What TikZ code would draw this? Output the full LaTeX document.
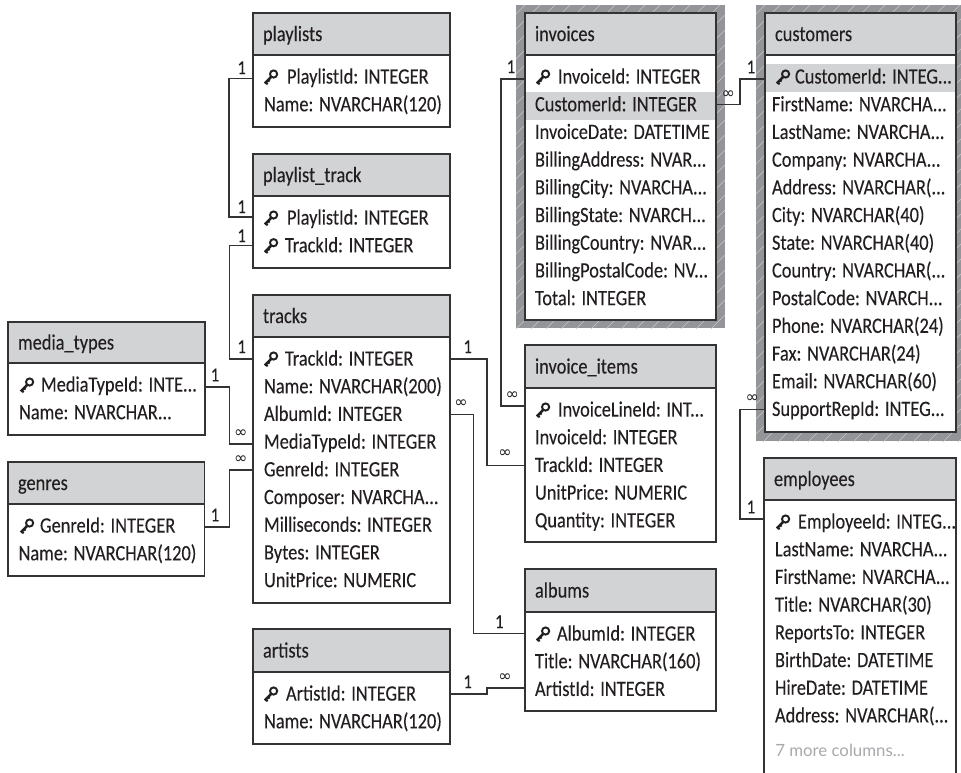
\documentclass[tikz,border=0pt]{standalone}
\usepackage{fontspec}
\setmainfont[FakeStretch=0.84,FakeBold=0.15]{Carlito}
\newfontfamily\morefont{Lato}
\newfontfamily\inffont{DejaVu Sans}
\definecolor{linecol}{HTML}{333335}
\definecolor{headcol}{HTML}{D1D3D4}
\definecolor{shadecol}{HTML}{939598}
\definecolor{hatchcol}{HTML}{C6C7C8}
\definecolor{txtcol}{HTML}{231F20}
\definecolor{morecol}{HTML}{A7A9AC}
\def\splitcol#1: #2\relax{#1:\kern .26em #2}
\tikzset{
  tbox/.style={draw=linecol,fill=white,line width=1.1pt,anchor=north west,inner sep=0pt,outer sep=0pt},
  thead/.style={draw=linecol,fill=headcol,line width=1.1pt,anchor=north west,inner sep=0pt,outer sep=0pt,align=left,text=txtcol,
     font=\fontsize{16.4pt}{18pt}\selectfont,text height=12.75pt,text depth=2.25pt},
  trow/.style={anchor=west,inner sep=0pt,outer sep=0pt,align=left,text=txtcol,
     font=\fontsize{16.4pt}{18pt}\selectfont,text height=15.3pt,text depth=5.5pt},
  conn/.style={draw=linecol,line width=1.05pt},
  lab/.style={inner sep=0pt,outer sep=0pt,text=txtcol,font=\fontsize{15pt}{16pt}\selectfont},
  inflab/.style={inner sep=0pt,outer sep=0pt,text=txtcol,font=\inffont\fontsize{12pt}{13pt}\selectfont},
  keyicon/.pic={
    \draw[txtcol,line width=1.45pt] (10.6,5) circle[radius=3.6];
    \draw[txtcol,line width=1.9pt] (8,8) -- (1.8,14.4);
    \draw[txtcol,line width=1.5pt] (2.4,12.6) -- (4.6,15.4);
    \draw[txtcol,line width=1.5pt] (4.6,10.6) -- (6.6,12.6);
  }
}
\newcommand\dbtable[7]{%
  \pgfmathsetmacro\tw{(#4-#2)*.75}%
  \pgfmathsetmacro\bh{(#6-#3)*.75}%
  \pgfmathsetmacro\hh{(#5-#3)*.75}%
  \xdef\tname{#1}\xdef\tx{#2}\xdef\thd{#5}\xdef\twd{\tw}%
  \node[tbox,minimum width=\tw pt,minimum height=\bh pt] (#1) at (#2,#3) {};
  \node[thead,minimum width=\tw pt,minimum height=\hh pt,text width=\tw pt] (#1-h) at (#2,#3) {\hspace*{7.5pt}#7};
}
\newcommand\crow[3]{%
  \pgfmathsetmacro\ry{\thd+22+(#1-1)*27.7}%
  \pgfmathsetmacro\off{#2*.75}%
  \node[trow,text width=\twd pt] (\tname-#1) at (\tx,\ry) {\hspace*{\off pt}\mbox{\splitcol #3\relax}};
}
\newcommand\krow[4]{%
  \crow{#1}{#3}{#4}
  \path (\tname-#1.west) ++(#2,-8) pic {keyicon};
}
\newcommand\hatchpanel[4]{%
  \fill[shadecol] (#1,#2) rectangle (#3,#4);
  \begin{scope}
    \clip (#1,#2) rectangle (#3,#4);
    \foreach \t in {500,515,...,1700}
      \draw[hatchcol,line width=.4pt] (\t,0) -- ({\t-800},800);
  \end{scope}
}
\begin{document}
\begin{tikzpicture}[x=.75pt,y=-.75pt]
\useasboundingbox (0,0) rectangle (961,772);
\clip (0,0) rectangle (961,772);
\hatchpanel{516}{5}{725}{328}
\hatchpanel{756}{5}{961}{441}

\dbtable{playlists}{253}{13}{450}{55}{127}{playlists}
\krow{1}{10}{34}{PlaylistId: INTEGER}
\crow{2}{11}{Name: NVARCHAR(120)}

\dbtable{playlisttrack}{253}{154}{450}{196}{268}{playlist\_track}
\krow{1}{10}{34}{PlaylistId: INTEGER}
\krow{2}{10}{32}{TrackId: INTEGER}

\dbtable{tracks}{253}{295}{450}{337}{603}{tracks}
\krow{1}{10}{32}{TrackId: INTEGER}
\crow{2}{11}{Name: NVARCHAR(200)}
\crow{3}{11}{AlbumId: INTEGER}
\crow{4}{11}{MediaTypeId: INTEGER}
\crow{5}{11}{GenreId: INTEGER}
\crow{6}{11}{Composer: NVARCHA...}
\crow{7}{11}{Milliseconds: INTEGER}
\crow{8}{11}{Bytes: INTEGER}
\crow{9}{11}{UnitPrice: NUMERIC}

\dbtable{mediatypes}{8}{322}{205}{363}{435}{media\_types}
\krow{1}{11}{33}{MediaTypeId: INTE...}
\crow{2}{11}{Name: NVARCHAR...}

\dbtable{genres}{8}{462}{204.5}{504}{576}{genres}
\krow{1}{11}{32}{GenreId: INTEGER}
\crow{2}{10.5}{Name: NVARCHAR(120)}

\dbtable{artists}{253}{629}{450}{672}{744}{artists}
\krow{1}{10}{33}{ArtistId: INTEGER}
\crow{2}{11}{Name: NVARCHAR(120)}

\dbtable{invoices}{525}{13}{716}{55}{320}{invoices}
\fill[headcol] (526,92) rectangle (715,120);
\krow{1}{10}{33}{InvoiceId: INTEGER}
\crow{2}{10}{CustomerId: INTEGER}
\crow{3}{10}{InvoiceDate: DATETIME}
\crow{4}{10}{BillingAddress: NVAR...}
\crow{5}{10}{BillingCity: NVARCHA...}
\crow{6}{10}{BillingState: NVARCH...}
\crow{7}{10}{BillingCountry: NVAR...}
\crow{8}{10}{BillingPostalCode: NV...}
\crow{9}{10}{Total: INTEGER}

\dbtable{customers}{765}{13}{956}{55}{432}{customers}
\fill[headcol] (766,64) rectangle (955,92);
\krow{1}{10}{30}{CustomerId: INTEG...}
\crow{2}{7}{FirstName: NVARCHA...}
\crow{3}{7}{LastName: NVARCHA...}
\crow{4}{7}{Company: NVARCHA...}
\crow{5}{7}{Address: NVARCHAR(...}
\crow{6}{7}{City: NVARCHAR(40)}
\crow{7}{7}{State: NVARCHAR(40)}
\crow{8}{7}{Country: NVARCHAR(...}
\crow{9}{7}{PostalCode: NVARCH...}
\crow{10}{7}{Phone: NVARCHAR(24)}
\crow{11}{7}{Fax: NVARCHAR(24)}
\crow{12}{7}{Email: NVARCHAR(60)}
\crow{13}{7}{SupportRepId: INTEG...}

\dbtable{invoiceitems}{525}{345}{716}{388}{542}{invoice\_items}
\krow{1}{10}{33}{InvoiceLineId: INT...}
\crow{2}{10}{InvoiceId: INTEGER}
\crow{3}{10}{TrackId: INTEGER}
\crow{4}{10}{UnitPrice: NUMERIC}
\crow{5}{10}{Quantity: INTEGER}

\dbtable{albums}{525}{569}{716}{612}{711}{albums}
\krow{1}{10}{32}{AlbumId: INTEGER}
\crow{2}{10}{Title: NVARCHAR(160)}
\crow{3}{10}{ArtistId: INTEGER}

\dbtable{employees}{764}{458}{956}{500}{800}{employees}
\krow{1}{11}{34}{EmployeeId: INTEG...}
\crow{2}{11}{LastName: NVARCHA...}
\crow{3}{11}{FirstName: NVARCHA...}
\crow{4}{11}{Title: NVARCHAR(30)}
\crow{5}{11}{ReportsTo: INTEGER}
\crow{6}{11}{BirthDate: DATETIME}
\crow{7}{11}{HireDate: DATETIME}
\crow{8}{11}{Address: NVARCHAR(...}
\node[anchor=west,inner sep=0pt,text=morecol,font=\morefont\fontsize{12.6pt}{14pt}\selectfont] (more) at (775,750) {7 more columns...};

% connectors
\draw[conn] ([yshift=-1.2pt]playlists-1.west) -- ++(-24,0) |- ([yshift=.8pt]playlisttrack-1.west);
\draw[conn] (playlisttrack-2.west) -- ++(-23.5,0) |- (tracks-1.west);
\draw[conn] ([yshift=-1.5pt]mediatypes-1.east) -- ++(24.5,0) |- ([yshift=-1.4pt]tracks-4.west);
\draw[conn] ([yshift=-.8pt]genres-1.east) -- ++(25,0) |- (tracks-5.west);
\draw[conn] (tracks-1.east) -- ++(37,0) |- (invoiceitems-3.west);
\draw[conn] (tracks-3.east) -- ++(23.5,0) |- ([yshift=.4pt]albums-1.west);
\draw[conn] ([yshift=0pt]artists-1.east) -- ++(37,0) |- ([yshift=1pt]albums-3.west);
\draw[conn] ([yshift=-1.5pt]invoices-1.west) -- ++(-24,0) |- ([yshift=3pt]invoiceitems-1.west);
\draw[conn] (invoices-2.east) -- ++(24,0) |- ([yshift=-1.5pt]customers-1.west);
\draw[conn] (customers-13.west) -- ++(-25,0) |- ([yshift=2.2pt]employees-1.west);

% cardinality labels
\node[lab] (a1) at (241.7,67.7) {1};
\node[lab] (a2) at (241.7,206.7) {1};
\node[lab] (a3) at (241.7,235.7) {1};
\node[lab] (a4) at (241.7,346.7) {1};
\node[lab] (a5) at (215,375) {1};
\node[inflab] (i1) at (240.7,434) {∞};
\node[inflab] (i2) at (240.7,460) {∞};
\node[lab] (a6) at (215,515) {1};
\node[lab] (a7) at (467.7,346.7) {1};
\node[inflab] (i3) at (461,404) {∞};
\node[lab] (a8) at (511,66.7) {1};
\node[inflab] (i4) at (512.3,396) {∞};
\node[inflab] (i5) at (505,454) {∞};
\node[lab] (a9) at (499.3,621.7) {1};
\node[lab] (a10) at (467.7,681.7) {1};
\node[inflab] (i6) at (505,677.7) {∞};
\node[inflab] (i7) at (728.3,95) {∞};
\node[lab] (a11) at (751,67) {1};
\node[inflab] (i8) at (752.3,399) {∞};
\node[lab] (a12) at (751,507) {1};
\end{tikzpicture}
\end{document}
